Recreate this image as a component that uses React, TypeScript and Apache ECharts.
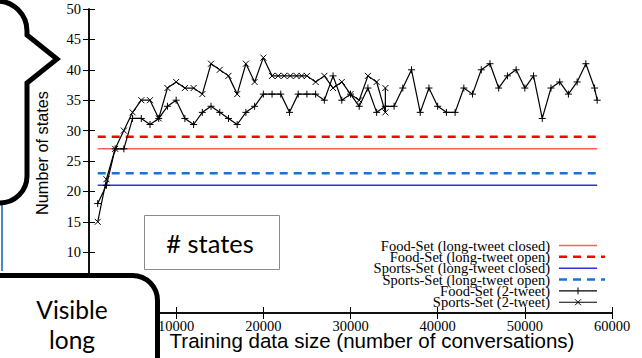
import React, { useEffect, useRef } from "react";
import * as echarts from "echarts";

// ---- data ----
const foodX = [1000, 2000, 3000, 4000, 5000, 6000, 7000, 8000, 9000, 10000, 11000, 12000, 13000, 14000, 15000, 16000, 17000, 18000, 19000, 20000, 21000, 22000, 23000, 24000, 25000, 26000, 27000, 28000, 29000, 30000, 31000, 32000, 33000, 34000, 35000, 36000, 37000, 38000, 39000, 40000, 41000, 42000, 43000, 44000, 45000, 46000, 47000, 48000, 49000, 50000, 51000, 52000, 53000, 54000, 55000, 56000, 57000, 58000, 58300];
const foodY = [18, 21, 27, 27, 32, 32, 31, 32, 34, 35, 32, 31, 33, 34, 33, 32, 31, 33, 34, 36, 36, 36, 33, 36, 36, 36, 35, 39, 35, 36, 34, 37, 33, 34, 34, 37, 40, 33, 37, 34, 33, 33, 37, 36, 40, 41, 37, 39, 40, 37, 39, 32, 37, 38, 36, 38, 41, 37, 35];

const sportsX = [1000, 2000, 3000, 4000, 5000, 6000, 7000, 8000, 9000, 10000, 11000, 12000, 13000, 14000, 15000, 16000, 17000, 18000, 19000, 20000, 21000, 21700, 22400, 23100, 23800, 24400, 25000, 26000, 27000, 28000, 29000, 30000, 31000, 32000, 33000, 34000, 34000];
const sportsY = [15, 22, 27, 30, 33, 35, 35, 32, 37, 38, 37, 37, 36, 41, 40, 39, 36, 41, 38, 42, 39, 39, 39, 39, 39, 39, 39, 38, 39, 37, 38, 36, 35, 39, 38, 33, 37];

const refStartX = 1000;
const refEndX = 58300;
const foodClosed = 27;
const foodOpen = 29;
const sportsClosed = 21;
const sportsOpen = 23;

const xTicks = { min: 0, max: 60000, interval: 10000 };
const yTicks = { min: 0, max: 50, interval: 5 };
// tick labels hidden behind the "Visible long" callout in the reference
const yHiddenBelow = 10;

const legendLabels = [
  "Food-Set (long-tweet closed)",
  "Food-Set (long-tweet open)",
  "Sports-Set (long-tweet closed)",
  "Sports-Set (long-tweet open)",
  "Food-Set (2-tweet)",
  "Sports-Set (2-tweet)",
];

const xTitle = "Training data size (number of conversations)";
const yTitle = "Number of states";
const boxText = "# states";
const calloutLines = ["Visible", "long"];

// ---- styles ----
const C_FOOD_CLOSED = "#ff5c5c";
const C_FOOD_OPEN = "#ff0000";
const C_SPORTS_CLOSED = "#2f2fe6";
const C_SPORTS_OPEN = "#1874cd";

const PLUS = "path://M0,5L10,5M5,0L5,10";
const CROSS = "path://M0,0L10,10M0,10L10,0";

const bubblePath =
  "M -20 1 L -3 1 A 30 30 0 0 1 27 31 L 27 35 L 57 59 L 27 83 L 27 176 A 27 27 0 0 1 0 203 L -20 203 Z";
echarts.graphic.registerShape("bubble", echarts.graphic.extendPath(bubblePath, {}));

function zip(xs: number[], ys: number[]) {
  return xs.map((x, i) => [x, ys[i]]);
}

export default function App() {
  const ref = useRef<HTMLDivElement>(null);
  useEffect(() => {
    if (!ref.current) return;
    const chart = echarts.init(ref.current, null, { renderer: "svg" });

    const serif = "Liberation Serif";
    const axisLine = { show: true, lineStyle: { color: "#000", width: 1.5 } };
    const tick = { show: true, inside: true, length: 6, lineStyle: { color: "#000", width: 1 } };

    const hLine = (val: number, color: string, width: number, dashed: boolean) => ({
      type: "line",
      data: [
        [refStartX, val],
        [refEndX, val],
      ],
      symbol: "none",
      silent: true,
      z: 1,
      lineStyle: { color, width, type: dashed ? [8, 6] : "solid" },
    });

    const legendX = 550;
    const sampleX1 = 559;
    const sampleX2 = 597;
    const rowY = (i: number) => 245.5 + i * 11.35;
    const legendEls: any[] = [];
    const sampleStyles = [
      { stroke: C_FOOD_CLOSED, lineWidth: 1.5, lineDash: null, x2: sampleX2 },
      { stroke: C_FOOD_OPEN, lineWidth: 2.5, lineDash: [8, 6], x2: 605 },
      { stroke: C_SPORTS_CLOSED, lineWidth: 1.4, lineDash: null, x2: sampleX2 },
      { stroke: C_SPORTS_OPEN, lineWidth: 2.5, lineDash: [8, 6], x2: 605 },
      { stroke: "#000", lineWidth: 1.2, lineDash: null, x2: sampleX2 },
      { stroke: "#000", lineWidth: 1.2, lineDash: null, x2: sampleX2 },
    ];
    legendLabels.forEach((lab, i) => {
      const y = rowY(i);
      legendEls.push({
        type: "text",
        x: legendX,
        y,
        z: 50,
        style: { text: lab, fill: "#000", font: `14.5px "${serif}"`, textAlign: "right", textVerticalAlign: "middle" },
      });
      const s = sampleStyles[i];
      legendEls.push({
        type: "line",
        z: 50,
        shape: { x1: sampleX1, y1: y, x2: s.x2, y2: y },
        style: { stroke: s.stroke, lineWidth: s.lineWidth, lineDash: s.lineDash },
      });
    });
    const mx = 578;
    const m4 = rowY(4);
    const m5 = rowY(5);
    legendEls.push(
      { type: "line", z: 50, shape: { x1: mx, y1: m4 - 3.5, x2: mx, y2: m4 + 3.5 }, style: { stroke: "#000", lineWidth: 1 } },
      { type: "line", z: 50, shape: { x1: mx - 3, y1: m5 - 3, x2: mx + 3, y2: m5 + 3 }, style: { stroke: "#000", lineWidth: 1 } },
      { type: "line", z: 50, shape: { x1: mx - 3, y1: m5 + 3, x2: mx + 3, y2: m5 - 3 }, style: { stroke: "#000", lineWidth: 1 } }
    );

    const overlay = "Lato";

    chart.setOption({
      animation: false,
      backgroundColor: "#fff",
      grid: { left: 89, right: 30, top: 9, bottom: 45, containLabel: false },
      xAxis: [
        {
          type: "value",
          position: "bottom",
          ...xTicks,
          axisLine,
          axisTick: tick,
          splitLine: { show: false },
          axisLabel: {
            fontFamily: serif,
            fontSize: 14.5,
            color: "#000",
            margin: 5,
            formatter: (v: number) => (v === 0 ? "" : String(v)),
          },
        },
        {
          type: "value",
          position: "top",
          ...xTicks,
          axisLine,
          axisTick: tick,
          splitLine: { show: false },
          axisLabel: { show: false },
        },
      ],
      yAxis: [
        {
          type: "value",
          position: "left",
          ...yTicks,
          axisLine,
          axisTick: tick,
          splitLine: { show: false },
          axisLabel: {
            fontFamily: serif,
            fontSize: 14.5,
            color: "#000",
            margin: 8,
            formatter: (v: number) => (v < yHiddenBelow ? "" : String(v)),
          },
        },
        {
          type: "value",
          position: "right",
          ...yTicks,
          axisLine,
          axisTick: tick,
          splitLine: { show: false },
          axisLabel: { show: false },
        },
      ],
      series: [
        hLine(foodClosed, C_FOOD_CLOSED, 1.5, false),
        hLine(foodOpen, C_FOOD_OPEN, 2.5, true),
        hLine(sportsClosed, C_SPORTS_CLOSED, 1.4, false),
        hLine(sportsOpen, C_SPORTS_OPEN, 2.5, true),
        {
          type: "line",
          name: "Food-Set (2-tweet)",
          data: zip(foodX, foodY),
          symbol: PLUS,
          symbolSize: 7,
          showAllSymbol: true,
          z: 3,
          lineStyle: { color: "#000", width: 1.2 },
          itemStyle: { color: "none", borderColor: "#000", borderWidth: 1 },
        },
        {
          type: "line",
          name: "Sports-Set (2-tweet)",
          data: zip(sportsX, sportsY),
          symbol: CROSS,
          symbolSize: 6,
          showAllSymbol: true,
          z: 3,
          lineStyle: { color: "#000", width: 1.2 },
          itemStyle: { color: "none", borderColor: "#000", borderWidth: 1 },
        },
      ],
      graphic: {
        elements: [
          ...legendEls,
          {
            type: "text",
            x: 372,
            y: 340,
            z: 40,
            style: { text: xTitle, fill: "#000", font: '20.5px "Liberation Sans"', textAlign: "center", textVerticalAlign: "middle" },
          },
          {
            type: "text",
            x: 42,
            y: 153,
            rotation: Math.PI / 2,
            z: 40,
            style: { text: yTitle, fill: "#000", font: '16.3px "Liberation Sans"', textAlign: "center", textVerticalAlign: "middle" },
          },
          {
            type: "rect",
            z: 60,
            shape: { x: 144.5, y: 215.5, width: 135, height: 54 },
            style: { fill: "#fff", stroke: "#8a8a8a", lineWidth: 1 },
          },
          {
            type: "text",
            x: 210,
            y: 243,
            z: 61,
            style: { text: boxText, fill: "#000", font: `25.5px "${overlay}"`, textAlign: "center", textVerticalAlign: "middle" },
          },
          {
            type: "line",
            z: 60,
            shape: { x1: 2, y1: 203, x2: 2, y2: 271 },
            style: { stroke: "#4f86c6", lineWidth: 2 },
          },
          {
            type: "rect",
            z: 70,
            shape: { x: -40, y: 275.5, width: 197.5, height: 140, r: 25 },
            style: { fill: "#fff", stroke: "#000", lineWidth: 5 },
          },
          {
            type: "text",
            x: 72,
            y: 309,
            z: 71,
            style: { text: calloutLines[0], fill: "#000", font: `24.5px "${overlay}"`, textAlign: "center", textVerticalAlign: "middle" },
          },
          {
            type: "text",
            x: 72,
            y: 339,
            z: 71,
            style: { text: calloutLines[1], fill: "#000", font: `24.5px "${overlay}"`, textAlign: "center", textVerticalAlign: "middle" },
          },
          {
            type: "bubble",
            z: 70,
            style: { fill: "#fff", stroke: "#000", lineWidth: 5 },
          },
        ],
      },
    });
    return () => chart.dispose();
  }, []);
  return <div ref={ref} style={{ position: "absolute", left: 0, top: 0, width: 642, height: 358 }} />;
}
